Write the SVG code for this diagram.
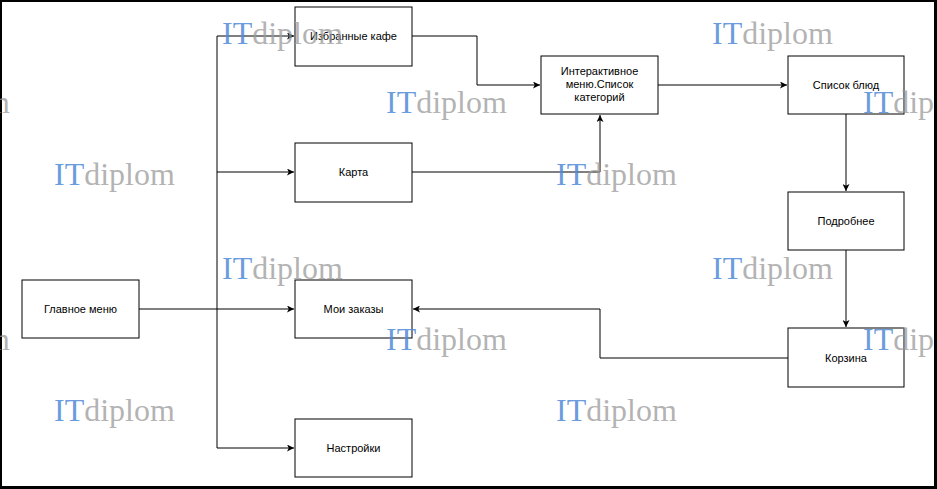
<svg xmlns="http://www.w3.org/2000/svg" width="937" height="489" viewBox="0 0 937 489">
<style>
.box{fill:#fff;stroke:#000;stroke-width:1}
.lbl{font-family:"Liberation Sans",Arial,sans-serif;font-size:11px;fill:#000;text-anchor:middle}
.edge{fill:none;stroke:#000;stroke-width:1}
.wm{font-family:"Liberation Serif","Times New Roman",serif;font-size:32px}
.wm .a{fill:#4f8ad8;fill-opacity:0.85}
.wm .b{fill:#9a9a9a;fill-opacity:0.75}
</style>
<defs>
<marker id="arr" viewBox="0 0 10 10" refX="10" refY="5" markerWidth="7" markerHeight="7" markerUnits="userSpaceOnUse" orient="auto">
<path d="M0,0 L10,5 L0,10 L2.5,5 z" fill="#000"/>
</marker>
</defs>
<rect x="0" y="0" width="937" height="489" fill="#000"/>
<rect x="2" y="2" width="932" height="484" fill="#fff"/>
<g id="connectors">
<path class="edge" d="M139,309 H294" marker-end="url(#arr)"/>
<path class="edge" d="M217,309 V36 H294" marker-end="url(#arr)"/>
<path class="edge" d="M217,172 H294" marker-end="url(#arr)"/>
<path class="edge" d="M217,309 V448 H294" marker-end="url(#arr)"/>
<path class="edge" d="M412,36 H477 V85 H540" marker-end="url(#arr)"/>
<path class="edge" d="M412,172 H600 V115" marker-end="url(#arr)"/>
<path class="edge" d="M658,85 H787" marker-end="url(#arr)"/>
<path class="edge" d="M846,114 V191" marker-end="url(#arr)"/>
<path class="edge" d="M846,250 V327" marker-end="url(#arr)"/>
<path class="edge" d="M788,358 H600 V309 H413" marker-end="url(#arr)"/>
</g>
<g id="n-fav"><rect class="box" x="295" y="7" width="117" height="59"/><text class="lbl" x="353.5" y="40">Избранные кафе</text></g>
<g id="n-map"><rect class="box" x="295" y="143" width="117" height="59"/><text class="lbl" x="353.5" y="176">Карта</text></g>
<g id="n-main"><rect class="box" x="22" y="280" width="117" height="58"/><text class="lbl" x="80.5" y="313">Главное меню</text></g>
<g id="n-orders"><rect class="box" x="295" y="280" width="117" height="58"/><text class="lbl" x="353.5" y="313">Мои заказы</text></g>
<g id="n-settings"><rect class="box" x="295" y="419" width="117" height="58"/><text class="lbl" x="353.5" y="452">Настройки</text></g>
<g id="n-menu"><rect class="box" x="541" y="56" width="117" height="58"/><text class="lbl" x="599.5" y="75">Интерактивное<tspan x="599.5" dy="13">меню.Список</tspan><tspan x="599.5" dy="13">категорий</tspan></text></g>
<g id="n-dishes"><rect class="box" x="788" y="56" width="116" height="58"/><text class="lbl" x="846" y="89">Список блюд</text></g>
<g id="n-details"><rect class="box" x="788" y="192" width="116" height="58"/><text class="lbl" x="846" y="225">Подробнее</text></g>
<g id="n-cart"><rect class="box" x="788" y="328" width="116" height="59"/><text class="lbl" x="846" y="362">Корзина</text></g>
<g id="watermarks" class="wm">
<text x="222" y="44"><tspan class="a">IT</tspan><tspan class="b">diplom</tspan></text>
<text x="712" y="44"><tspan class="a">IT</tspan><tspan class="b">diplom</tspan></text>
<text x="-111" y="113"><tspan class="a">IT</tspan><tspan class="b">diplom</tspan></text>
<text x="386" y="113"><tspan class="a">IT</tspan><tspan class="b">diplom</tspan></text>
<text x="863" y="113"><tspan class="a">IT</tspan><tspan class="b">diplom</tspan></text>
<text x="54" y="185"><tspan class="a">IT</tspan><tspan class="b">diplom</tspan></text>
<text x="556" y="185"><tspan class="a">IT</tspan><tspan class="b">diplom</tspan></text>
<text x="222" y="279"><tspan class="a">IT</tspan><tspan class="b">diplom</tspan></text>
<text x="712" y="279"><tspan class="a">IT</tspan><tspan class="b">diplom</tspan></text>
<text x="-111" y="350"><tspan class="a">IT</tspan><tspan class="b">diplom</tspan></text>
<text x="386" y="350"><tspan class="a">IT</tspan><tspan class="b">diplom</tspan></text>
<text x="863" y="350"><tspan class="a">IT</tspan><tspan class="b">diplom</tspan></text>
<text x="54" y="421"><tspan class="a">IT</tspan><tspan class="b">diplom</tspan></text>
<text x="556" y="421"><tspan class="a">IT</tspan><tspan class="b">diplom</tspan></text>
</g>
<rect x="934" y="0" width="3" height="489" fill="#000"/>
<rect x="0" y="486" width="937" height="3" fill="#000"/>
</svg>
